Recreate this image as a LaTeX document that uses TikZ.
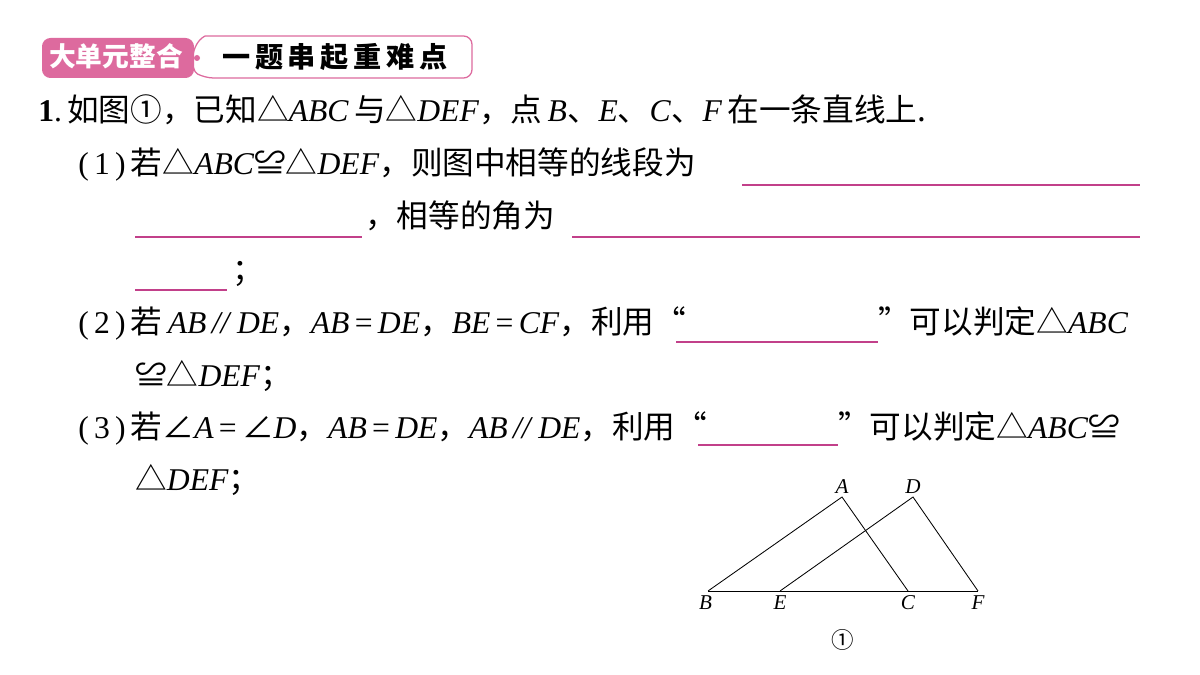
\documentclass[tikz,border=0pt]{standalone}
\usepackage{fontspec}
\setmainfont{Liberation Serif}
\newfontfamily\cjk{Noto Sans CJK SC}
\usetikzlibrary{positioning}
\definecolor{pinkbar}{HTML}{DD6A9E}
\definecolor{blankline}{HTML}{C2408A}
\newcommand{\zh}[1]{{\cjk #1}}
\newcommand{\vx}[1]{\textit{#1}}
\tikzset{
  txt/.style={anchor=base west, inner sep=0pt, font=\fontsize{22.5}{26}\selectfont},
  blank/.style={blankline, line width=0.9pt},
  pt/.style={inner sep=1pt, font=\fontsize{15}{18}\selectfont\itshape},
}
\begin{document}
\begin{tikzpicture}[x=0.025cm,y=-0.025cm]
  \useasboundingbox (0,0) rectangle (1200,675);

  % header badge
  \draw[pinkbar, line width=0.9pt, fill=white, rounded corners=6pt]
    (205,36) -- (472,36) -- (472,78) -- (205,78) .. controls (190,70) and (190,44) .. (205,36);
  \fill[pinkbar, rounded corners=6pt] (42,38) rectangle (194,78);
  \fill[pinkbar] (197,58) circle (3);
  \node (badge) [txt, white, font=\fontsize{19}{22}\selectfont\cjk\bfseries] at (49,67) {大单元整合};
  \node (title) [txt, font=\fontsize{20}{22}\selectfont\cjk\bfseries] at (222,68) {一\,题\,串\,起\,重\,难\,点};

  % text lines
  \node (l1) [txt] at (38,122) {\textbf{1}.\,\zh{如图①，已知△}\vx{ABC}\,\zh{与△}\vx{DEF}\zh{，点}\,\vx{B}\zh{、}\vx{E}\zh{、}\vx{C}\zh{、}\vx{F}\,\zh{在一条直线上.}};
  \node (l2) [txt] at (78,175) {(\,1\,)\,\zh{若△}\vx{ABC}\zh{≌△}\vx{DEF}\zh{，则图中相等的线段为}};
  \node (l3) [txt] at (365,228) {\zh{，相等的角为}};
  \node (l4) [txt] at (232,281) {\zh{；}};
  \node (l5) [txt] at (78,333) {(\,2\,)\,\zh{若}\,\vx{AB}\,\vx{//}\,\vx{DE}\zh{，}\vx{AB}\,=\,\vx{DE}\zh{，}\vx{BE}\,=\,\vx{CF}\zh{，利用“}};
  \node (l5b) [txt] at (878,333) {\zh{”可以判定△}\vx{ABC}};
  \node (l6) [txt] at (135,386) {\zh{≌△}\vx{DEF}\zh{；}};
  \node (l7) [txt] at (78,438) {(\,3\,)\,\zh{若∠}\vx{A}\,=\,\zh{∠}\vx{D}\zh{，}\vx{AB}\,=\,\vx{DE}\zh{，}\vx{AB}\,\vx{//}\,\vx{DE}\zh{，利用“}};
  \node (l7b) [txt] at (838,438) {\zh{”可以判定△}\vx{ABC}\zh{≌}};
  \node (l8) [txt] at (135,490) {\zh{△}\vx{DEF}\zh{；}};

  % blanks
  \draw[blank] (742,185) -- (1140,185);
  \draw[blank] (135,237) -- (362,237);
  \draw[blank] (572,237) -- (1140,237);
  \draw[blank] (135,290) -- (227,290);
  \draw[blank] (676,342) -- (878,342);
  \draw[blank] (698,445) -- (838,445);

  % figure
  \coordinate (B) at (708,591);
  \coordinate (E) at (780,591);
  \coordinate (C) at (908,591);
  \coordinate (F) at (978,591);
  \coordinate (A) at (842,497);
  \coordinate (D) at (913,497);
  \draw[line width=0.6pt] (B) -- (F);
  \draw[line width=0.6pt] (B) -- (A) -- (C);
  \draw[line width=0.6pt] (E) -- (D) -- (F);
  \node (lA) [pt, above=1pt of A] {A};
  \node (lD) [pt, above=1pt of D] {D};
  \node (lB) [pt, below left=2pt and -4pt of B] {B};
  \node (lE) [pt, below=2pt of E] {E};
  \node (lC) [pt, below=2pt of C] {C};
  \node (lF) [pt, below=2pt of F] {F};
  \node (cap) [inner sep=0pt, font=\fontsize{16}{18}\selectfont\cjk] at (843,640) {①};
\end{tikzpicture}
\end{document}
